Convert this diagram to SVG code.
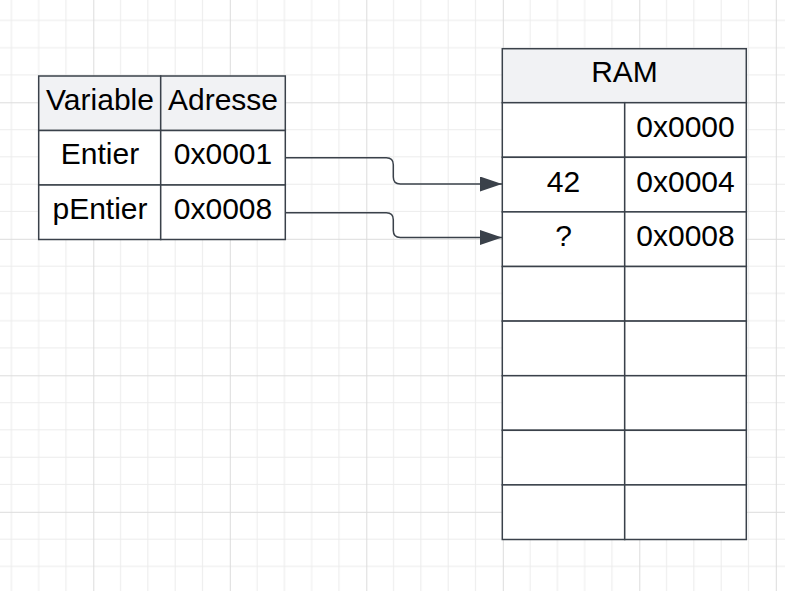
<svg xmlns="http://www.w3.org/2000/svg" width="785" height="591" viewBox="0 0 785 591">
  <defs>
    <!-- background grid: minor every 27.3px, major every 5 cells -->
    <pattern id="grid" patternUnits="userSpaceOnUse" x="93.3" y="102.3" width="136.5" height="136.5">
      <g stroke="#ececec" stroke-width="1" fill="none">
        <path d="M27.3 0V136.5M54.6 0V136.5M81.9 0V136.5M109.2 0V136.5"/>
        <path d="M0 27.3H136.5M0 54.6H136.5M0 81.9H136.5M0 109.2H136.5"/>
      </g>
      <g stroke="#dcdcdc" stroke-width="1" fill="none">
        <path d="M0.5 0V136.5M0 0.5H136.5"/>
      </g>
    </pattern>
    <marker id="arrow" markerUnits="userSpaceOnUse" markerWidth="24" markerHeight="16" refX="22" refY="7.5" orient="auto">
      <path d="M0 0L22 7.5L0 15Z" fill="#3a414a"/>
    </marker>
    <style>
      .cell { fill: #ffffff; stroke: #3a414a; stroke-width: 1.5; }
      .head { fill: #f1f2f4; stroke: #3a414a; stroke-width: 1.5; }
      .lbl { font-family: "Liberation Sans", Arial, sans-serif; font-size: 30px; fill: #000000; text-anchor: middle; }
      .link { fill: none; stroke: #3a414a; stroke-width: 1.5; }
    </style>
  </defs>

  <rect x="0" y="0" width="785" height="591" fill="#ffffff"/>
  <rect x="0" y="0" width="785" height="591" fill="url(#grid)"/>

  <!-- variable table -->
  <g id="variables">
    <rect class="head" x="38.7" y="76" width="122" height="54.5"/>
    <rect class="head" x="160.7" y="76" width="124.6" height="54.5"/>
    <rect class="cell" x="38.7" y="130.5" width="122" height="54.5"/>
    <rect class="cell" x="160.7" y="130.5" width="124.6" height="54.5"/>
    <rect class="cell" x="38.7" y="185" width="122" height="54.5"/>
    <rect class="cell" x="160.7" y="185" width="124.6" height="54.5"/>
    <text class="lbl" x="100" y="110">Variable</text>
    <text class="lbl" x="223" y="110">Adresse</text>
    <text class="lbl" x="100" y="164">Entier</text>
    <text class="lbl" x="223" y="164">0x0001</text>
    <text class="lbl" x="100" y="218.5">pEntier</text>
    <text class="lbl" x="223" y="218.5">0x0008</text>
  </g>

  <!-- memory table -->
  <g id="ram">
    <rect class="head" x="502.3" y="48.7" width="244" height="54"/>
    <text class="lbl" x="624.5" y="82">RAM</text>
    <g>
      <rect class="cell" x="502.3" y="102.7" width="122.4" height="54.6"/>
      <rect class="cell" x="624.7" y="102.7" width="121.6" height="54.6"/>
      <rect class="cell" x="502.3" y="157.3" width="122.4" height="54.6"/>
      <rect class="cell" x="624.7" y="157.3" width="121.6" height="54.6"/>
      <rect class="cell" x="502.3" y="211.9" width="122.4" height="54.6"/>
      <rect class="cell" x="624.7" y="211.9" width="121.6" height="54.6"/>
      <rect class="cell" x="502.3" y="266.5" width="122.4" height="54.6"/>
      <rect class="cell" x="624.7" y="266.5" width="121.6" height="54.6"/>
      <rect class="cell" x="502.3" y="321.1" width="122.4" height="54.6"/>
      <rect class="cell" x="624.7" y="321.1" width="121.6" height="54.6"/>
      <rect class="cell" x="502.3" y="375.7" width="122.4" height="54.6"/>
      <rect class="cell" x="624.7" y="375.7" width="121.6" height="54.6"/>
      <rect class="cell" x="502.3" y="430.3" width="122.4" height="54.6"/>
      <rect class="cell" x="624.7" y="430.3" width="121.6" height="54.6"/>
      <rect class="cell" x="502.3" y="484.9" width="122.4" height="54.6"/>
      <rect class="cell" x="624.7" y="484.9" width="121.6" height="54.6"/>
    </g>
    <text class="lbl" x="685.5" y="136.7">0x0000</text>
    <text class="lbl" x="563.5" y="191.5">42</text>
    <text class="lbl" x="685.5" y="191.5">0x0004</text>
    <text class="lbl" x="563.5" y="246">?</text>
    <text class="lbl" x="685.5" y="246">0x0008</text>
  </g>

  <!-- pointers from addresses to memory cells -->
  <g id="connectors">
    <path class="link" marker-end="url(#arrow)" d="M285.3 157.7H386.3Q393.3 157.7 393.3 164.7V177Q393.3 184 400.3 184H502"/>
    <path class="link" marker-end="url(#arrow)" d="M285.3 212.7H386.3Q393.3 212.7 393.3 219.7V230.5Q393.3 237.5 400.3 237.5H502"/>
  </g>
</svg>
